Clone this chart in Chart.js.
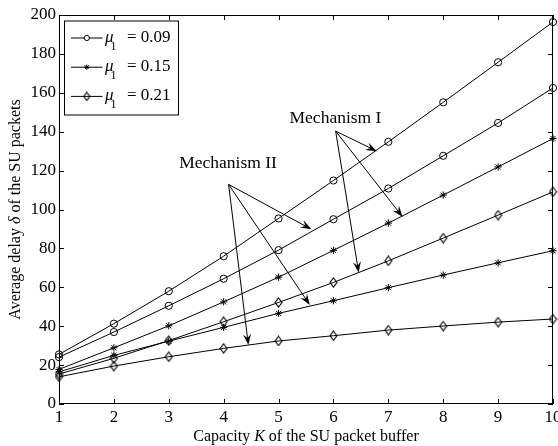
<!DOCTYPE html>
<html>
<head>
<meta charset="utf-8">
<script src="https://cdn.jsdelivr.net/npm/chart.js@4.4.0/dist/chart.umd.min.js"></script>
<style>
  html, body { margin: 0; padding: 0; background: #fff; }
  #wrap { width: 558px; height: 446px; }
</style>
</head>
<body>
<div id="wrap"><canvas id="chart" width="558" height="446"></canvas></div>
<script>
// capacity K of the SU packet buffer
const capacity = [1, 2, 3, 4, 5, 6, 7, 8, 9, 10];
const muValues = ['0.09', '0.15', '0.21'];

// Mechanism I (upper curve of each pair)
const mech1Mu009 = [25.5, 41.3, 58.0, 76.0, 95.4, 114.9, 134.8, 155.1, 175.7, 196.4];
const mech1Mu015 = [17.8, 28.9, 40.2, 52.5, 65.2, 79.0, 93.0, 107.4, 121.9, 136.5];
const mech1Mu021 = [15.4, 23.5, 32.6, 42.3, 52.2, 62.5, 73.6, 85.3, 97.1, 109.1];

// Mechanism II (lower curve of each pair)
const mech2Mu009 = [24.1, 37.0, 50.5, 64.4, 79.1, 95.0, 110.8, 127.6, 144.5, 162.5];
const mech2Mu015 = [16.5, 25.0, 32.3, 39.4, 46.6, 53.1, 59.8, 66.3, 72.6, 78.8];
const mech2Mu021 = [14.0, 19.5, 24.3, 28.6, 32.4, 35.1, 38.0, 40.1, 42.1, 43.7];

const xTickValues = [1, 2, 3, 4, 5, 6, 7, 8, 9, 10];
const yTickValues = [0, 20, 40, 60, 80, 100, 120, 140, 160, 180, 200];

// annotation text and arrows, in data units
const mechLabels = [
  { text: 'Mechanism I', x: 5.20, y: 144.6, from: [6.04, 140.3], to: [[6.79, 130.0], [7.26, 96.2], [6.46, 67.5]] },
  { text: 'Mechanism II', x: 3.19, y: 121.1, from: [4.09, 112.9], to: [[5.60, 89.8], [5.57, 50.9], [4.45, 30.3]] }
];

const serif = '"Liberation Serif", "Times New Roman", serif';

function makeDiamond(w, h) {
  const c = document.createElement('canvas');
  c.width = w + 2;
  c.height = h + 2;
  const g = c.getContext('2d');
  g.strokeStyle = '#000';
  g.lineWidth = 1.1;
  g.beginPath();
  g.moveTo(c.width / 2, 1);
  g.lineTo(c.width - 1, c.height / 2);
  g.lineTo(c.width / 2, c.height - 1);
  g.lineTo(1, c.height / 2);
  g.closePath();
  g.stroke();
  return c;
}

const diamond = makeDiamond(7, 9);
const diamondSmall = makeDiamond(6, 8);
const markerStyles = ['circle', 'star', diamond];
const legendMarkers = ['circle', 'star', diamondSmall];

function series(vals, style) {
  return {
    data: capacity.map((k, i) => ({ x: k, y: vals[i] })),
    borderColor: '#000',
    borderWidth: 1,
    pointStyle: style,
    pointRadius: 3.6,
    pointBorderColor: '#000',
    pointBackgroundColor: 'rgba(0,0,0,0)',
    pointBorderWidth: 1,
    tension: 0,
    clip: false
  };
}

function drawRich(ctx, parts, x, y, size) {
  let total = 0;
  for (const p of parts) {
    ctx.font = (p.italic ? 'italic ' : '') + size + 'px ' + serif;
    p.w = ctx.measureText(p.t).width;
    total += p.w;
  }
  let cx = x - total / 2;
  ctx.textAlign = 'left';
  for (const p of parts) {
    ctx.font = (p.italic ? 'italic ' : '') + size + 'px ' + serif;
    ctx.fillText(p.t, cx, y);
    cx += p.w;
  }
}

function drawArrow(ctx, x0, y0, x1, y1) {
  const ang = Math.atan2(y1 - y0, x1 - x0);
  const len = 11, half = 4;
  ctx.beginPath();
  ctx.moveTo(x0, y0);
  ctx.lineTo(x1 - Math.cos(ang) * len * 0.6, y1 - Math.sin(ang) * len * 0.6);
  ctx.stroke();
  ctx.save();
  ctx.translate(x1, y1);
  ctx.rotate(ang);
  ctx.beginPath();
  ctx.moveTo(0, 0);
  ctx.lineTo(-len, -half);
  ctx.lineTo(-len * 0.65, 0);
  ctx.lineTo(-len, half);
  ctx.closePath();
  ctx.fill();
  ctx.restore();
}

const decorations = {
  id: 'decorations',
  afterDraw(chart) {
    const ctx = chart.ctx;
    const a = chart.chartArea;
    const xs = chart.scales.x, ys = chart.scales.y;
    ctx.save();
    ctx.strokeStyle = '#000';
    ctx.fillStyle = '#000';
    ctx.lineWidth = 1;

    // box and inward ticks
    ctx.strokeRect(a.left + 0.5, a.top + 0.5, a.right - a.left - 1, a.bottom - a.top - 1);
    ctx.beginPath();
    for (const v of xTickValues) {
      const px = Math.round(xs.getPixelForValue(v)) + 0.5;
      ctx.moveTo(px, a.bottom); ctx.lineTo(px, a.bottom - 5);
      ctx.moveTo(px, a.top); ctx.lineTo(px, a.top + 5);
    }
    for (const v of yTickValues) {
      const py = Math.round(ys.getPixelForValue(v)) + 0.5;
      ctx.moveTo(a.left, py); ctx.lineTo(a.left + 5, py);
      ctx.moveTo(a.right, py); ctx.lineTo(a.right - 5, py);
    }
    ctx.stroke();

    // axis titles
    ctx.textBaseline = 'middle';
    drawRich(ctx, [{ t: 'Capacity ' }, { t: 'K', italic: true }, { t: ' of the SU packet buffer' }],
      (a.left + a.right) / 2, 437, 16);
    ctx.save();
    ctx.translate(16, (a.top + a.bottom) / 2);
    ctx.rotate(-Math.PI / 2);
    drawRich(ctx, [{ t: 'Average delay ' }, { t: '\u03b4', italic: true }, { t: ' of the SU packets' }], 0, 0, 16);
    ctx.restore();

    // mechanism labels with arrows
    ctx.textBaseline = 'alphabetic';
    ctx.textAlign = 'left';
    ctx.font = '17.5px ' + serif;
    for (const m of mechLabels) {
      ctx.fillText(m.text, xs.getPixelForValue(m.x), ys.getPixelForValue(m.y));
      const x0 = xs.getPixelForValue(m.from[0]), y0 = ys.getPixelForValue(m.from[1]);
      for (const t of m.to) {
        drawArrow(ctx, x0, y0, xs.getPixelForValue(t[0]), ys.getPixelForValue(t[1]));
      }
    }

    // legend
    const lx = a.left + 5.5, ly = a.top + 6;
    ctx.fillStyle = '#fff';
    ctx.fillRect(lx, ly, 114, 94);
    ctx.strokeRect(lx, ly, 114, 94);
    muValues.forEach((mu, i) => {
      const cy = ly + 17 + i * 29.2;
      ctx.beginPath();
      ctx.moveTo(lx + 6.5, cy); ctx.lineTo(lx + 38, cy);
      ctx.stroke();
      ctx.fillStyle = '#fff';
      Chart.helpers.drawPoint(ctx, { pointStyle: legendMarkers[i], radius: 2.6, borderWidth: 1, rotation: 0 }, lx + 22.3, cy);
      ctx.fillStyle = '#000';
      const base = cy + 4;
      ctx.textAlign = 'left';
      ctx.font = 'italic 17px ' + serif;
      ctx.fillText('\u03bc', lx + 40.5, base);
      ctx.font = '12px ' + serif;
      ctx.fillText('1', lx + 46, base + 8);
      ctx.font = '17px ' + serif;
      ctx.fillText('= ' + mu, lx + 62.5, base);
    });
    ctx.restore();
  }
};

const ctx = document.getElementById('chart').getContext('2d');
const chart = new Chart(ctx, {
  type: 'line',
  data: {
    datasets: [
      series(mech1Mu009, markerStyles[0]),
      series(mech2Mu009, markerStyles[0]),
      series(mech1Mu015, markerStyles[1]),
      series(mech2Mu015, markerStyles[1]),
      series(mech1Mu021, markerStyles[2]),
      series(mech2Mu021, markerStyles[2])
    ]
  },
  options: {
    responsive: false,
    animation: false,
    layout: { padding: { left: 0, right: 4, top: 15, bottom: 0 } },
    plugins: { legend: { display: false }, tooltip: { enabled: false } },
    scales: {
      x: {
        type: 'linear',
        min: 1,
        max: 10,
        grid: { display: false, drawTicks: false },
        border: { display: false },
        afterBuildTicks: s => { s.ticks = xTickValues.map(v => ({ value: v })); },
        afterFit: s => { s.height = 42; s.paddingLeft = 0; s.paddingRight = 0; },
        ticks: { color: '#000', font: { family: serif, size: 17 }, padding: 3, maxRotation: 0, autoSkip: false }
      },
      y: {
        min: 0,
        max: 200,
        grid: { display: false, drawTicks: false },
        border: { display: false },
        afterBuildTicks: s => { s.ticks = yTickValues.map(v => ({ value: v })); },
        afterFit: s => { s.width = 59; s.paddingTop = 0; s.paddingBottom = 0; },
        ticks: { color: '#000', font: { family: serif, size: 17 }, padding: 3 }
      }
    }
  },
  plugins: [decorations]
});
</script>
</body>
</html>
